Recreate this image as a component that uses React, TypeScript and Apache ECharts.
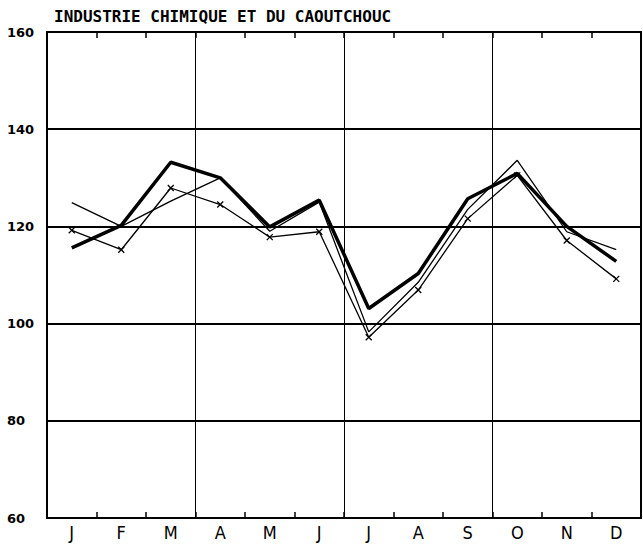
import React, { useEffect, useRef } from "react";
import * as echarts from "echarts";

const TITLE = "INDUSTRIE CHIMIQUE ET DU CAOUTCHOUC";
const MONTHS = ["J", "F", "M", "A", "M", "J", "J", "A", "S", "O", "N", "D"];
const Y_MIN = 60;
const Y_MAX = 160;
const Y_STEP = 20;
const SERIES_THICK = [115.6, 120.2, 133.2, 130.0, 119.9, 125.4, 103.1, 110.3, 125.7, 130.9, 120.0, 112.8];
const SERIES_THIN = [124.9, 120.0, 125.2, 130.0, 119.0, 125.0, 98.3, 108.5, 123.5, 133.6, 118.9, 115.2];
const SERIES_MARKED = [119.2, 115.2, 127.9, 124.5, 117.8, 118.9, 97.2, 106.9, 121.6, 130.5, 117.1, 109.2];

const X_SYMBOL = "path://M0,0L10,10M10,0L0,10";

export default function App() {
  const ref = useRef<HTMLDivElement>(null);
  useEffect(() => {
    document.body.style.margin = "0";
    if (!ref.current) return;
    const chart = echarts.init(ref.current, null, { renderer: "svg" });
    chart.setOption({
      animation: false,
      backgroundColor: "#ffffff",
      title: {
        text: TITLE,
        left: 49,
        top: 3,
        textStyle: {
          fontFamily: "DejaVu Sans Mono",
          fontSize: 16,
          fontWeight: "bold",
          color: "#000",
        },
      },
      grid: {
        left: 47,
        right: 2,
        top: 32,
        bottom: 31,
        show: true,
        borderColor: "#000",
        borderWidth: 2,
        containLabel: false,
      },
      xAxis: [
        {
          type: "category",
          data: MONTHS,
          boundaryGap: true,
          position: "bottom",
          axisLine: { show: true, lineStyle: { color: "#000", width: 2 } },
          axisTick: { show: true, inside: true, length: 6, interval: 0, lineStyle: { color: "#000", width: 1.5 } },
          axisLabel: {
            interval: 0,
            margin: 5,
            color: "#000",
            fontFamily: "DejaVu Sans Condensed",
            fontSize: 18,
          },
          splitLine: {
            show: true,
            interval: (i: number) => i % 3 === 0,
            lineStyle: { color: "#000", width: 1 },
          },
        },
        {
          type: "category",
          data: MONTHS,
          boundaryGap: true,
          position: "top",
          axisLine: { show: false },
          axisTick: { show: true, inside: true, length: 6, interval: 0, lineStyle: { color: "#000", width: 1.5 } },
          axisLabel: { show: false },
          splitLine: { show: false },
        },
      ],
      yAxis: {
        type: "value",
        min: Y_MIN,
        max: Y_MAX,
        interval: Y_STEP,
        axisLine: { show: false },
        axisTick: { show: false },
        axisLabel: {
          align: "left",
          margin: 40,
          color: "#000",
          fontFamily: "DejaVu Sans",
          fontWeight: "bold",
          fontSize: 13,
        },
        splitLine: { show: true, lineStyle: { color: "#000", width: 2 } },
      },
      series: [
        {
          type: "line",
          data: SERIES_THIN,
          symbol: "none",
          lineStyle: { color: "#000", width: 1.3 },
        },
        {
          type: "line",
          data: SERIES_MARKED,
          symbol: X_SYMBOL,
          symbolSize: 6,
          itemStyle: { color: "none", borderColor: "#000", borderWidth: 1.3 },
          lineStyle: { color: "#000", width: 1.3 },
        },
        {
          type: "line",
          data: SERIES_THICK,
          symbol: "none",
          lineStyle: { color: "#000", width: 3.5 },
        },
      ],
    });
    return () => chart.dispose();
  }, []);
  return <div ref={ref} style={{ width: 643, height: 549 }} />;
}
